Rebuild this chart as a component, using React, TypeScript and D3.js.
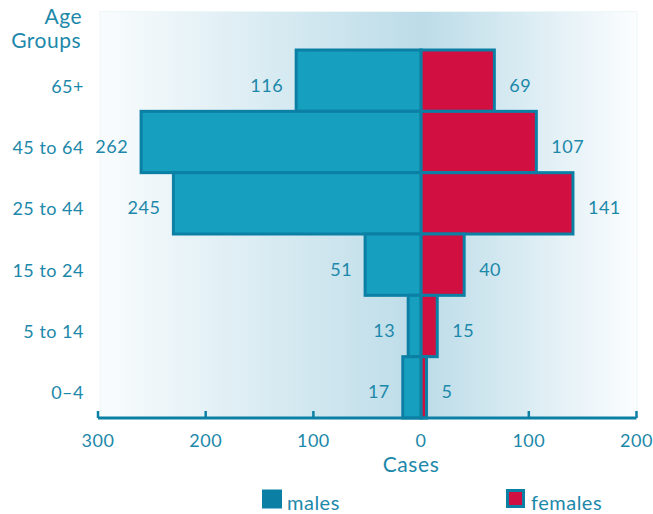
import React from "react";
import * as d3 from "d3";

const ageGroups = ["65+", "45 to 64", "25 to 44", "15 to 24", "5 to 14", "0–4"];
const maleValues = [116, 260, 230, 52, 12, 17];
const maleLabels = [116, 262, 245, 51, 13, 17];
const femaleValues = [68, 107, 141, 40, 15, 5];
const femaleLabels = [69, 107, 141, 40, 15, 5];
const tickValues = [-300, -200, -100, 0, 100, 200];

const W = 653;
const H = 514;
const TEXT = "#1c88aa";
const MALE = "#179fc0";
const FEMALE = "#d10f41";
const STROKE = "#0b80a4";
const FONT = "Lato, 'Open Sans', sans-serif";

export default function App() {
  const x = d3.scaleLinear().domain([-300, 200]).range([98, 636.5]);
  const y = d3.scaleBand<string>().domain(ageGroups).range([50, 418]).padding(0);
  const bw = y.bandwidth();
  const axisY = 418;

  return (
    <svg width={W} height={H} style={{ position: "absolute", left: 0, top: 0 }} fontFamily={FONT}>
      <defs>
        <linearGradient id="bg" x1="0" x2="1" y1="0" y2="0">
          <stop offset="0" stopColor="#f9fcfd" />
          <stop offset="0.6" stopColor="#bcdce8" />
          <stop offset="1" stopColor="#fbfdfe" />
        </linearGradient>
      </defs>
      <rect x={100} y={11.5} width={537} height={axisY - 11.5} fill="url(#bg)" stroke="#eef6f9" strokeWidth={1} />

      {ageGroups.map((g, i) => {
        const yy = y(g)!;
        return (
          <g key={g}>
            <rect
              x={x(-maleValues[i])}
              y={yy}
              width={x(0) - x(-maleValues[i])}
              height={bw}
              fill={MALE}
              stroke={STROKE}
              strokeWidth={3}
            />
            <rect
              x={x(0)}
              y={yy}
              width={x(femaleValues[i]) - x(0)}
              height={bw}
              fill={FEMALE}
              stroke={STROKE}
              strokeWidth={3}
            />
          </g>
        );
      })}

      {ageGroups.map((g, i) => {
        const cy = y(g)! + bw / 2 + 4;
        return (
          <g key={"l" + g} fontSize={18} fill={TEXT} letterSpacing={0.5}>
            <text x={x(-maleValues[i]) - 13} y={cy} textAnchor="end" dominantBaseline="central">
              {maleLabels[i]}
            </text>
            <text x={x(femaleValues[i]) + 15} y={cy} textAnchor="start" dominantBaseline="central">
              {femaleLabels[i]}
            </text>
            <text x={84} y={y(g)! + bw / 2 + 5} textAnchor="end" dominantBaseline="central">
              {g}
            </text>
          </g>
        );
      })}

      <g fill={TEXT} fontSize={21} letterSpacing={0.5} textAnchor="end">
        <text x={82} y={24}>Age</text>
        <text x={81} y={48}>Groups</text>
      </g>

      <line x1={x(-300)} x2={x(200)} y1={axisY} y2={axisY} stroke={STROKE} strokeWidth={3} />
      {tickValues.map((t) => (
        <g key={"t" + t}>
          <line x1={x(t)} x2={x(t)} y1={axisY} y2={axisY - 7} stroke={STROKE} strokeWidth={2.5} />
          <text
            x={x(t)}
            y={440}
            textAnchor="middle"
            dominantBaseline="central"
            fontSize={18}
            fill={TEXT}
            letterSpacing={0.5}
          >
            {Math.abs(t)}
          </text>
        </g>
      ))}
      <text x={411} y={463} textAnchor="middle" dominantBaseline="central" fontSize={21} fill={TEXT} letterSpacing={0.6}>
        Cases
      </text>

      <rect x={263} y={490.5} width={18} height={17} fill={STROKE} stroke={STROKE} strokeWidth={2} />
      <text x={287} y={502} dominantBaseline="central" fontSize={20} fill={TEXT} letterSpacing={0.5}>
        males
      </text>
      <rect x={507.5} y={490.5} width={16} height={16} fill={FEMALE} stroke={STROKE} strokeWidth={3} />
      <text x={531} y={502} dominantBaseline="central" fontSize={20} fill={TEXT} letterSpacing={0.5}>
        females
      </text>
    </svg>
  );
}
